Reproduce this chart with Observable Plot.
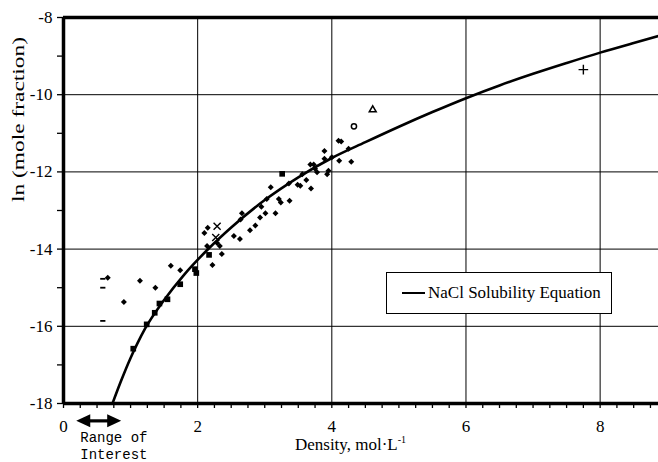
<!DOCTYPE html>
<html><head><meta charset="utf-8">
<script src="https://cdn.jsdelivr.net/npm/d3@7"></script>
<script src="https://cdn.jsdelivr.net/npm/@observablehq/plot@0.6"></script>
<style>
body{margin:0;background:#fff;}
#chart{position:relative;width:658px;height:462px;overflow:hidden;}
#legend{position:absolute;left:386px;top:272px;width:224px;height:40px;border:1.5px solid #000;background:#fff;
 font-family:"Liberation Serif",serif;font-size:17px;display:flex;align-items:center;}
#legend .ln{display:inline-block;width:23px;height:2.5px;background:#000;margin-left:15px;margin-right:3px;}
</style></head><body><div id="chart"></div>
<script>
// ---- axes ----
const xTicks = [0, 2, 4, 6, 8];
const yTicks = [-8, -10, -12, -14, -16, -18];
const yMinorTicks = [-9, -11, -13, -15, -17];
const xMinorStep = 0.25;
const xDomain = [0, 8.87];
const yDomain = [-18, -8];

// ---- NaCl solubility equation curve ----
const curveDensity = [0.73, 0.85, 1.0, 1.1, 1.22, 1.5, 1.8, 2.15, 2.5, 3.0, 3.5, 4.0, 4.5, 5.0, 5.5, 6.0, 6.5, 7.0, 7.5, 8.0, 8.5, 8.87];
const curveLnX     = [-18, -17.45, -16.82, -16.45, -16.05, -15.32, -14.66, -14.01, -13.44, -12.73, -12.14, -11.64, -11.23, -10.83, -10.45, -10.09, -9.76, -9.46, -9.18, -8.91, -8.66, -8.48];

// ---- experimental points ----
const diamondDensity = [0.66, 0.9, 1.14, 1.37, 1.6, 1.74, 2.22, 2.14, 2.10, 2.15, 2.36, 2.33, 2.29, 2.54, 2.63, 2.66, 2.64, 2.78, 2.86, 2.93, 2.95, 3.03, 3.01, 3.09, 3.16, 3.21, 3.24, 3.37, 3.36, 3.49, 3.53, 3.62, 3.69, 3.56, 3.68, 3.73, 3.78, 3.75, 3.89, 3.89, 3.93, 3.95, 4.0, 4.11, 4.10, 4.14, 4.25, 4.29];
const diamondLnX     = [-14.74, -15.37, -14.82, -15.0, -14.43, -14.55, -14.41, -13.92, -13.58, -13.45, -14.13, -13.92, -13.84, -13.66, -13.74, -13.07, -13.23, -13.51, -13.39, -13.18, -12.9, -12.7, -13.07, -12.4, -13.07, -12.7, -12.79, -12.75, -12.3, -12.33, -12.36, -12.21, -12.43, -12.06, -11.81, -11.81, -12.01, -11.92, -11.46, -11.66, -12.06, -11.97, -11.62, -11.71, -11.19, -11.21, -11.4, -11.74];
const squareDensity = [1.04, 1.24, 1.36, 1.43, 1.55, 1.74, 1.96, 1.98, 2.17, 3.26];
const squareLnX     = [-16.58, -15.95, -15.65, -15.41, -15.3, -14.91, -14.52, -14.62, -14.15, -12.05];
const timesDensity = [2.29, 2.27];
const timesLnX     = [-13.41, -13.7];
const dashDensity = [0.586, 0.586, 0.586];
const dashLnX     = [-14.77, -15.0, -15.86];
const plusDensity = [7.75];
const plusLnX     = [-9.35];
const triangleDensity = [4.61];
const triangleLnX     = [-10.39];
const circleDensity = [4.33];
const circleLnX     = [-10.82];

// ---- annotation ----
const rangeOfInterest = [0.19, 0.86];
const rangeLabel = "Range of\nInterest";
const legendLabel = "NaCl Solubility Equation";
const xLabel = "Density, mol·L";
const xLabelSup = "-1";
const yLabel = "ln (mole fraction)";

const serif = "Liberation Serif";
const mono = "Liberation Mono";
const pts = (xs, ys) => xs.map((x, i) => ({x, y: ys[i]}));
const curve = pts(curveDensity, curveLnX);

const dashSymbol = {draw(ctx) { ctx.rect(-2.6, -0.9, 5.2, 1.8); }};
const leftHead = {draw(ctx) { ctx.moveTo(0, 0); ctx.lineTo(14, -6.5); ctx.lineTo(14, 6.5); ctx.closePath(); }};
const rightHead = {draw(ctx) { ctx.moveTo(0, 0); ctx.lineTo(-14, -6.5); ctx.lineTo(-14, 6.5); ctx.closePath(); }};

const xMinor = d3.range(0, xDomain[1] + 1e-9, xMinorStep);
const arrowY = -18.45;

const plot = Plot.plot({
  width: 658, height: 462,
  marginLeft: 63, marginTop: 17, marginBottom: 59, marginRight: 0,
  x: {domain: xDomain},
  y: {domain: yDomain},
  style: {fontFamily: serif, fontSize: "17px", background: "#fff", color: "#000", overflow: "visible"},
  marks: [
    Plot.gridX(xTicks.filter(d => d > 0), {stroke: "#000", strokeOpacity: 1, strokeWidth: 1}),
    Plot.gridY(yTicks.filter(d => d > -18 && d < -8), {stroke: "#000", strokeOpacity: 1, strokeWidth: 1}),
    Plot.axisX(xMinor, {tickSize: 5, tickFormat: () => "", label: null, strokeWidth: 1.3}),
    Plot.axisX(xTicks, {tickSize: 0, tickPadding: 16, label: null, fontSize: 17}),
    Plot.axisY(yMinorTicks, {tickSize: 6, tickFormat: () => "", label: null, strokeWidth: 1.3}),
    Plot.axisY(yTicks, {tickSize: 6, tickPadding: 5, label: null, tickFormat: d => String(d), fontSize: 17, strokeWidth: 1.3}),
    Plot.ruleX([0], {strokeWidth: 3.5}),
    Plot.ruleY([-18, -8], {strokeWidth: 3.5}),
    Plot.line(curve, {x: "x", y: "y", curve: "monotone-x", strokeWidth: 2.6, stroke: "#000"}),
    Plot.dot(pts(diamondDensity, diamondLnX), {x: "x", y: "y", symbol: "diamond2", r: 2.7, fill: "#000", stroke: "none"}),
    Plot.dot(pts(squareDensity, squareLnX), {x: "x", y: "y", symbol: "square", r: 3.2, fill: "#000", stroke: "none"}),
    Plot.dot(pts(timesDensity, timesLnX), {x: "x", y: "y", symbol: "times", r: 3.3, stroke: "#000", strokeWidth: 1.4}),
    Plot.dot(pts(dashDensity, dashLnX), {x: "x", y: "y", symbol: dashSymbol, fill: "#000", stroke: "none"}),
    Plot.dot(pts(plusDensity, plusLnX), {x: "x", y: "y", symbol: "plus", r: 3.2, stroke: "#000", strokeWidth: 1.4}),
    Plot.dot(pts(triangleDensity, triangleLnX), {x: "x", y: "y", symbol: "triangle2", r: 3.3, stroke: "#000", strokeWidth: 1.5, fill: "none"}),
    Plot.dot(pts(circleDensity, circleLnX), {x: "x", y: "y", symbol: "circle", r: 2.6, stroke: "#000", strokeWidth: 1.5, fill: "none"}),
    // Range of interest annotation
    Plot.link([rangeOfInterest], {x1: d => d[0] + 0.12, x2: d => d[1] - 0.12, y1: () => arrowY, y2: () => arrowY, strokeWidth: 3.2, stroke: "#000"}),
    Plot.dot([rangeOfInterest[0]], {x: d => d, y: () => arrowY, symbol: leftHead, fill: "#000", stroke: "none"}),
    Plot.dot([rangeOfInterest[1]], {x: d => d, y: () => arrowY, symbol: rightHead, fill: "#000", stroke: "none"}),
    Plot.text([rangeLabel], {x: () => rangeOfInterest[0], frameAnchor: "bottom", dy: 27, dx: 4, text: d => d, textAnchor: "start", lineAnchor: "top", lineHeight: 1.2, fontSize: 14}),
    Plot.text([yLabel], {frameAnchor: "left", dx: -45, dy: -8.5, rotate: -90, text: d => d, fontSize: 17})
  ]
});

const svg = d3.select(plot);
const xs = plot.scale("x").range;
const t = svg.append("text")
  .attr("x", (xs[0] + xs[1]) / 2 - 10).attr("y", 450)
  .attr("text-anchor", "middle").attr("font-size", 17).attr("fill", "#000");
t.append("tspan").text(xLabel);
t.append("tspan").attr("dy", -7).attr("font-size", 10).text(xLabelSup);
svg.selectAll("text").each(function() {
  const isMono = this.textContent.includes("Range");
  d3.select(this).style("font-family", isMono ? mono : serif);
  if (this.textContent === yLabel) {
    d3.select(this).attr("textLength", 165).attr("lengthAdjust", "spacingAndGlyphs");
  }
});

const chart = document.getElementById("chart");
chart.appendChild(plot);
const lg = document.createElement("div");
lg.id = "legend";
lg.innerHTML = `<span class="ln"></span><span>${legendLabel}</span>`;
chart.appendChild(lg);
</script></body></html>
